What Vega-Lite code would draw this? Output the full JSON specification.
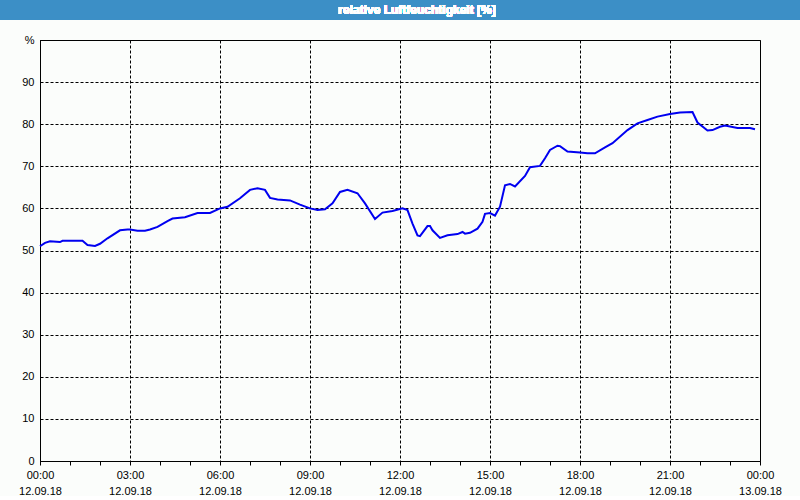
{
  "$schema": "https://vega.github.io/schema/vega-lite/v6.json",
  "background": "#fbfdfb",
  "padding": 0,
  "width": 720,
  "height": 421,
  "view": {"stroke": "#000000", "strokeWidth": 1},
  "config": {"font": "Liberation Sans"},
  "data": {"values": [
    {"time": "2018-09-12T00:00:00Z", "rh": 51.0},
    {"time": "2018-09-12T00:10:00Z", "rh": 51.8},
    {"time": "2018-09-12T00:20:00Z", "rh": 52.2},
    {"time": "2018-09-12T00:40:00Z", "rh": 52.0},
    {"time": "2018-09-12T00:45:00Z", "rh": 52.3},
    {"time": "2018-09-12T01:25:00Z", "rh": 52.3},
    {"time": "2018-09-12T01:35:00Z", "rh": 51.3},
    {"time": "2018-09-12T01:50:00Z", "rh": 51.1},
    {"time": "2018-09-12T02:00:00Z", "rh": 51.6},
    {"time": "2018-09-12T02:15:00Z", "rh": 52.9},
    {"time": "2018-09-12T02:40:00Z", "rh": 54.8},
    {"time": "2018-09-12T02:55:00Z", "rh": 55.0},
    {"time": "2018-09-12T03:00:00Z", "rh": 55.0},
    {"time": "2018-09-12T03:15:00Z", "rh": 54.7},
    {"time": "2018-09-12T03:30:00Z", "rh": 54.7},
    {"time": "2018-09-12T03:40:00Z", "rh": 55.0},
    {"time": "2018-09-12T03:55:00Z", "rh": 55.6},
    {"time": "2018-09-12T04:15:00Z", "rh": 57.0},
    {"time": "2018-09-12T04:25:00Z", "rh": 57.6},
    {"time": "2018-09-12T04:50:00Z", "rh": 57.9},
    {"time": "2018-09-12T05:15:00Z", "rh": 58.9},
    {"time": "2018-09-12T05:40:00Z", "rh": 58.9},
    {"time": "2018-09-12T06:00:00Z", "rh": 60.0},
    {"time": "2018-09-12T06:15:00Z", "rh": 60.4},
    {"time": "2018-09-12T06:40:00Z", "rh": 62.4},
    {"time": "2018-09-12T07:00:00Z", "rh": 64.4},
    {"time": "2018-09-12T07:15:00Z", "rh": 64.8},
    {"time": "2018-09-12T07:30:00Z", "rh": 64.4},
    {"time": "2018-09-12T07:40:00Z", "rh": 62.5},
    {"time": "2018-09-12T07:55:00Z", "rh": 62.1},
    {"time": "2018-09-12T08:20:00Z", "rh": 61.9},
    {"time": "2018-09-12T08:40:00Z", "rh": 60.9},
    {"time": "2018-09-12T09:00:00Z", "rh": 60.0},
    {"time": "2018-09-12T09:15:00Z", "rh": 59.6},
    {"time": "2018-09-12T09:30:00Z", "rh": 59.8},
    {"time": "2018-09-12T09:45:00Z", "rh": 61.2},
    {"time": "2018-09-12T10:00:00Z", "rh": 63.9},
    {"time": "2018-09-12T10:15:00Z", "rh": 64.4},
    {"time": "2018-09-12T10:35:00Z", "rh": 63.6},
    {"time": "2018-09-12T10:50:00Z", "rh": 61.2},
    {"time": "2018-09-12T11:10:00Z", "rh": 57.5},
    {"time": "2018-09-12T11:25:00Z", "rh": 59.0},
    {"time": "2018-09-12T11:45:00Z", "rh": 59.4},
    {"time": "2018-09-12T12:05:00Z", "rh": 60.0},
    {"time": "2018-09-12T12:15:00Z", "rh": 59.6},
    {"time": "2018-09-12T12:25:00Z", "rh": 56.4},
    {"time": "2018-09-12T12:35:00Z", "rh": 53.6},
    {"time": "2018-09-12T12:40:00Z", "rh": 53.4},
    {"time": "2018-09-12T12:55:00Z", "rh": 55.8},
    {"time": "2018-09-12T13:00:00Z", "rh": 55.8},
    {"time": "2018-09-12T13:05:00Z", "rh": 54.8},
    {"time": "2018-09-12T13:20:00Z", "rh": 53.0},
    {"time": "2018-09-12T13:35:00Z", "rh": 53.6},
    {"time": "2018-09-12T13:55:00Z", "rh": 53.9},
    {"time": "2018-09-12T14:05:00Z", "rh": 54.4},
    {"time": "2018-09-12T14:10:00Z", "rh": 54.0},
    {"time": "2018-09-12T14:20:00Z", "rh": 54.2},
    {"time": "2018-09-12T14:35:00Z", "rh": 55.2},
    {"time": "2018-09-12T14:45:00Z", "rh": 56.8},
    {"time": "2018-09-12T14:50:00Z", "rh": 58.7},
    {"time": "2018-09-12T15:00:00Z", "rh": 58.9},
    {"time": "2018-09-12T15:10:00Z", "rh": 58.3},
    {"time": "2018-09-12T15:20:00Z", "rh": 60.4},
    {"time": "2018-09-12T15:30:00Z", "rh": 65.5},
    {"time": "2018-09-12T15:40:00Z", "rh": 65.8},
    {"time": "2018-09-12T15:50:00Z", "rh": 65.2},
    {"time": "2018-09-12T16:10:00Z", "rh": 67.7},
    {"time": "2018-09-12T16:20:00Z", "rh": 69.8},
    {"time": "2018-09-12T16:40:00Z", "rh": 70.1},
    {"time": "2018-09-12T16:50:00Z", "rh": 71.9},
    {"time": "2018-09-12T17:00:00Z", "rh": 73.9},
    {"time": "2018-09-12T17:15:00Z", "rh": 74.9},
    {"time": "2018-09-12T17:20:00Z", "rh": 74.8},
    {"time": "2018-09-12T17:35:00Z", "rh": 73.5},
    {"time": "2018-09-12T18:00:00Z", "rh": 73.3},
    {"time": "2018-09-12T18:15:00Z", "rh": 73.1},
    {"time": "2018-09-12T18:30:00Z", "rh": 73.1},
    {"time": "2018-09-12T18:50:00Z", "rh": 74.5},
    {"time": "2018-09-12T19:05:00Z", "rh": 75.5},
    {"time": "2018-09-12T19:35:00Z", "rh": 78.6},
    {"time": "2018-09-12T19:55:00Z", "rh": 80.2},
    {"time": "2018-09-12T20:15:00Z", "rh": 81.0},
    {"time": "2018-09-12T20:35:00Z", "rh": 81.8},
    {"time": "2018-09-12T21:00:00Z", "rh": 82.4},
    {"time": "2018-09-12T21:20:00Z", "rh": 82.8},
    {"time": "2018-09-12T21:45:00Z", "rh": 82.9},
    {"time": "2018-09-12T21:55:00Z", "rh": 80.4},
    {"time": "2018-09-12T22:15:00Z", "rh": 78.5},
    {"time": "2018-09-12T22:25:00Z", "rh": 78.6},
    {"time": "2018-09-12T22:40:00Z", "rh": 79.4},
    {"time": "2018-09-12T22:50:00Z", "rh": 79.7},
    {"time": "2018-09-12T23:15:00Z", "rh": 79.1},
    {"time": "2018-09-12T23:40:00Z", "rh": 79.1},
    {"time": "2018-09-12T23:50:00Z", "rh": 78.8}
  ]},
  "layer": [
    {
      "mark": {"type": "line", "color": "#0000f0", "strokeWidth": 2},
      "encoding": {
        "x": {
          "field": "time",
          "type": "temporal",
          "scale": {"type": "utc", "domain": [{"year": 2018, "month": 9, "date": 12, "hours": 0, "utc": true}, {"year": 2018, "month": 9, "date": 13, "hours": 0, "utc": true}], "nice": false},
          "axis": {
            "title": null,
            "tickCount": 24,
            "labelExpr": "utchours(datum.value) % 3 == 0 ? [utcFormat(datum.value, '%H:%M'), utcFormat(datum.value, '%d.%m.%y')] : ''",
            "labelOverlap": false,
            "labelFlush": false,
            "labelFontSize": 11,
            "labelColor": "#000000",
            "labelLineHeight": 16,
            "labelPadding": 4,
            "tickSize": 4,
            "tickColor": "#000000",
            "domainColor": "#000000",
            "grid": true,
            "gridColor": "#000000",
            "gridDash": [3, 2],
            "gridOpacity": {"condition": {"test": "utchours(datum.value) % 3 == 0", "value": 1}, "value": 0}
          }
        },
        "y": {
          "field": "rh",
          "type": "quantitative",
          "scale": {"domain": [0, 100], "nice": false},
          "axis": {
            "title": null,
            "values": [0,5,10,15,20,25,30,35,40,45,50,55,60,65,70,75,80,85,90,95,100],
            "labelExpr": "datum.value == 100 ? '%' : datum.label",
            "labelFontSize": 11,
            "labelColor": "#000000",
            "labelPadding": 6,
            "ticks": false,
            "domainColor": "#000000",
            "minExtent": 40,
            "maxExtent": 40,
            "grid": true,
            "gridColor": "#000000",
            "gridDash": [3, 2]
          }
        }
      }
    },
    {
      "mark": {"type": "rect", "color": "#3c8fc6", "clip": false},
      "encoding": {
        "x": {"datum": {"year": 2018, "month": 9, "date": 11, "hours": 22, "minutes": 40, "utc": true}, "type": "temporal", "title": null},
        "x2": {"datum": {"year": 2018, "month": 9, "date": 13, "hours": 1, "minutes": 20, "utc": true}},
        "y": {"datum": 109.5, "type": "quantitative", "title": null},
        "y2": {"datum": 104.75}
      }
    },
    {
      "mark": {"type": "text", "color": "#ffffff", "fontWeight": "bold", "fontSize": 12, "baseline": "middle", "align": "center", "clip": false},
      "encoding": {
        "x": {"datum": {"year": 2018, "month": 9, "date": 12, "hours": 12, "minutes": 34, "utc": true}, "type": "temporal", "title": null},
        "y": {"datum": 107.1, "type": "quantitative", "title": null},
        "text": {"value": "relative Luftfeuchtigkeit [%]"}
      }
    }
  ]
}
